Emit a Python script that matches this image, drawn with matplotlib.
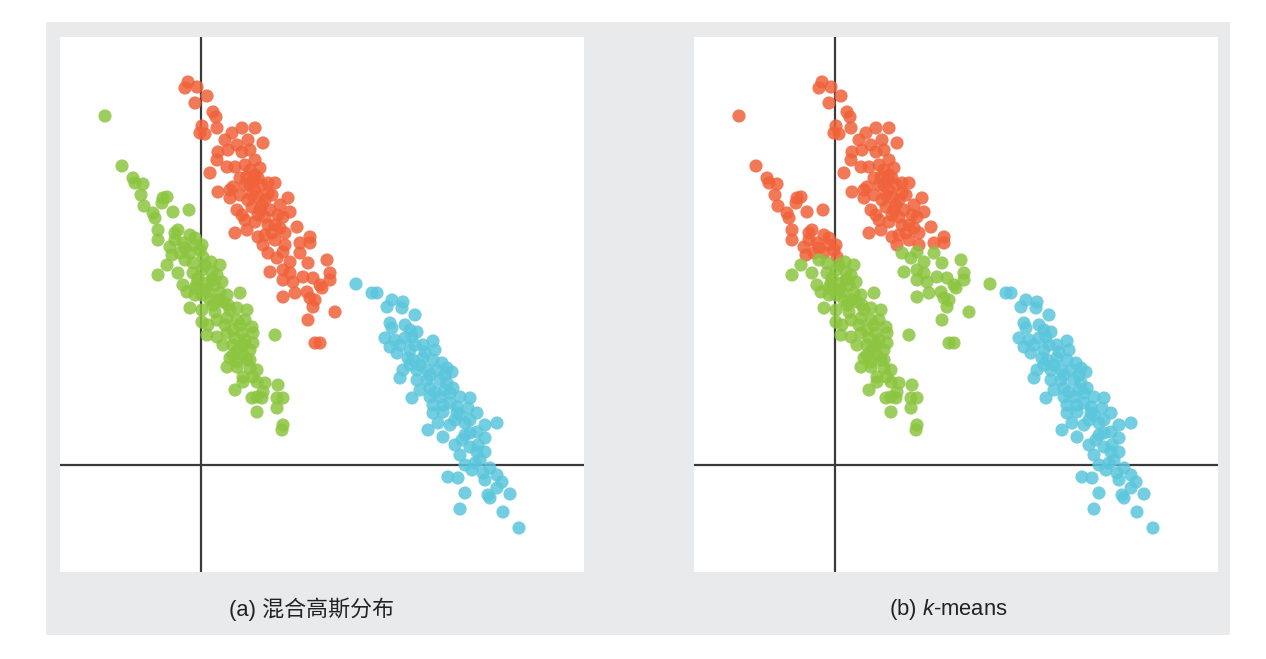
import numpy as np
import matplotlib
matplotlib.use("Agg")
import matplotlib.pyplot as plt
from matplotlib.patches import Rectangle

plt.rcParams['font.family'] = ['Liberation Sans', 'Noto Sans CJK SC']
plt.rcParams['mathtext.fontset'] = 'custom'
plt.rcParams['mathtext.rm'] = 'Liberation Sans'
plt.rcParams['mathtext.it'] = 'Liberation Sans:italic'

# points grouped by (mixture-of-gaussians cluster, k-means cluster)
red_red = [(-1.3, 38.3), (-1.6, 37.7), (-0.4, 37.8), (0.6, 36.9), (-0.6, 36.2), (1.2, 35.3),
           (1.5, 34.8), (0.1, 33.9), (-0.1, 33.2), (0.4, 33.1), (1.6, 33.7), (3.1, 33.2),
           (4.1, 33.7), (5.4, 33.7), (6.2, 32.2), (1.7, 31.3), (1.6, 30.5), (2.7, 31.5),
           (3.6, 32.0), (4.1, 31.3), (4.9, 31.5), (2.6, 29.8), (3.4, 29.8), (0.9, 29.2),
           (5.4, 30.5), (5.9, 29.7), (4.6, 28.8), (5.2, 28.5), (6.7, 28.2), (7.4, 28.2),
           (1.7, 27.3), (2.9, 27.5), (3.2, 27.8), (2.9, 26.7), (3.9, 27.0), (5.4, 27.5),
           (5.7, 26.8), (7.1, 27.0), (8.7, 26.7), (3.6, 25.5), (4.1, 25.0), (5.1, 25.8),
           (5.9, 25.5), (6.4, 24.8), (7.7, 25.0), (8.9, 25.3), (8.2, 24.8), (3.4, 23.2),
           (4.6, 23.5), (5.7, 22.8), (7.1, 23.2), (8.4, 23.2), (9.6, 23.8), (10.9, 22.8),
           (4.9, 29.5), (5.4, 29.0), (6.1, 28.0), (4.9, 28.0), (4.4, 30.0), (6.4, 26.5),
           (5.4, 24.3), (6.7, 24.0), (7.4, 22.5), (6.2, 22.0), (4.7, 32.5), (2.4, 32.5),
           (10.9, 22.2), (9.9, 22.2), (8.4, 22.0),
           (4.4, 28.0), (5.1, 27.0), (6.1, 26.0), (6.9, 25.5), (4.7, 26.5), (5.7, 25.0),
           (7.4, 24.0), (7.9, 23.7), (6.4, 23.0), (4.4, 24.5), (3.9, 28.7), (5.7, 28.7),
           (6.7, 27.2), (7.9, 26.0)]
red_green = [(6.7, 21.2), (8.2, 21.3), (9.9, 21.2), (10.7, 20.2), (6.9, 19.3), (8.2, 19.5),
             (8.9, 19.2), (12.6, 20.5), (12.9, 19.2), (12.9, 18.5), (8.2, 18.5), (9.2, 18.3),
             (11.9, 18.0), (12.1, 17.7), (10.2, 18.8), (11.2, 18.7), (8.2, 16.8), (9.4, 17.2),
             (10.6, 17.3), (10.9, 16.7), (11.4, 16.5), (11.2, 15.8), (13.4, 15.3), (10.7, 14.5),
             (11.4, 12.2), (11.9, 12.2), (7.6, 20.7), (8.9, 20.3)]
green_red = [(-9.6, 34.9), (-7.9, 29.9), (-6.8, 28.7), (-6.6, 28.2), (-5.8, 28.1), (-6.0, 27.0),
             (-5.7, 25.9), (-3.8, 26.7), (-3.4, 26.8), (-3.9, 26.2), (-4.8, 25.2), (-4.6, 24.7),
             (-2.8, 25.3), (-1.2, 25.5), (-4.3, 23.5), (-2.3, 23.5), (-2.6, 23.2), (-1.1, 23.0),
             (-4.3, 22.5), (-3.1, 21.8), (-1.8, 22.2), (0.1, 22.0), (-2.9, 21.0), (-2.1, 21.2),
             (-1.1, 21.2), (0.2, 20.8), (-0.1, 21.5), (-0.6, 22.0),
             (-1.6, 21.7), (-0.6, 22.7), (-2.6, 22.5)]
green_green = [(-3.4, 20.0), (-4.3, 19.0), (-2.3, 19.2), (-0.8, 20.2), (1.0, 20.3), (1.9, 20.0),
               (-0.8, 19.2), (0.1, 19.5), (1.1, 19.3), (1.6, 19.0), (-1.8, 18.0), (-1.4, 17.3),
               (-0.4, 18.2), (0.6, 18.2), (-0.6, 17.0), (0.1, 17.0), (-1.1, 15.7), (1.9, 17.2),
               (2.6, 17.0), (3.9, 17.2), (0.1, 15.5), (1.2, 16.0), (2.2, 16.3), (3.6, 15.7),
               (4.6, 15.5), (0.1, 14.3), (0.7, 14.0), (1.6, 14.5), (2.6, 14.7), (3.6, 14.5),
               (4.4, 14.5), (5.1, 13.8), (5.2, 13.2), (0.6, 13.0), (1.6, 12.8), (2.6, 13.2),
               (3.2, 13.5), (4.1, 13.2), (7.4, 13.0), (2.2, 12.0), (3.2, 12.0), (4.2, 12.0),
               (5.2, 12.2), (3.2, 11.0), (4.2, 11.0), (2.9, 10.7), (3.6, 10.3), (4.6, 10.5),
               (2.6, 9.8), (3.6, 9.8), (4.9, 9.7), (5.6, 9.5), (4.2, 8.8), (5.2, 8.8),
               (4.2, 8.3), (5.6, 8.3), (6.4, 8.2), (7.7, 8.0), (3.4, 7.5), (6.2, 7.3),
               (5.6, 6.8), (5.1, 6.7), (6.1, 6.7), (7.6, 6.7), (8.2, 6.7), (7.6, 5.7),
               (5.6, 5.3), (8.2, 4.0), (8.1, 3.5), (-1.6, 20.5), (0.4, 17.5), (1.4, 18.0),
               (2.9, 15.5), (3.9, 14.0), (4.9, 11.5), (0.9, 16.5),
               (0.4, 20.0), (-0.3, 18.7), (1.1, 18.5), (-0.6, 17.7), (0.7, 17.3), (1.7, 16.5),
               (2.7, 16.0), (1.4, 15.3), (2.4, 14.0), (3.4, 12.7), (4.4, 12.5), (3.7, 11.5),
               (4.9, 10.5), (2.1, 18.3)]
blue_green = [(15.5, 18.1)]
blue_blue = [(17.1, 17.2), (17.6, 17.2), (19.1, 16.5), (20.2, 16.3), (18.6, 15.8), (20.1, 15.7),
             (21.4, 15.0), (18.9, 14.2), (19.1, 13.7), (20.9, 13.5), (21.6, 13.3), (18.4, 12.7),
             (20.4, 12.7), (21.1, 12.8), (23.2, 12.4), (22.2, 12.0), (18.9, 11.8), (19.6, 11.2),
             (20.9, 11.5), (20.7, 10.7), (21.2, 10.5), (22.2, 10.7), (23.2, 10.5), (24.1, 10.2),
             (20.2, 9.5), (19.9, 8.7), (21.6, 9.5), (22.6, 9.5), (23.6, 9.5), (24.6, 9.7),
             (25.1, 9.3), (21.6, 8.5), (22.6, 8.5), (23.9, 8.5), (24.6, 8.2), (25.2, 7.7),
             (21.1, 6.7), (22.9, 6.8), (23.9, 6.8), (24.9, 7.2), (25.9, 6.8), (26.9, 6.7),
             (23.2, 6.0), (24.2, 6.0), (25.6, 5.8), (23.2, 5.2), (24.2, 5.3), (25.6, 5.2),
             (26.7, 5.7), (27.6, 5.2), (22.7, 3.5), (23.7, 4.2), (24.9, 4.0), (26.4, 4.2),
             (28.4, 4.0), (29.6, 4.2), (24.2, 2.8), (25.4, 2.0), (26.9, 3.2), (27.6, 3.3),
             (28.4, 2.7), (26.9, 1.8), (27.6, 1.3), (28.4, 1.3), (26.4, 0.0), (27.4, 0.2),
             (28.9, -0.3), (27.1, -0.5), (28.2, -0.8), (24.7, -1.2), (25.7, -1.3), (29.6, -1.0),
             (28.4, -1.5), (30.1, -1.7), (29.6, -2.3), (26.4, -2.8), (28.7, -3.0), (30.9, -2.9),
             (28.9, -3.3), (25.9, -4.4), (30.2, -4.7), (31.8, -6.3), (21.9, 7.5), (22.9, 7.7),
             (24.4, 7.5), (25.4, 4.5), (26.1, 2.5), (25.9, 1.0), (22.4, 11.3), (19.9, 12.0),
             (23.4, 11.5),
             (20.4, 14.0), (21.4, 12.0), (21.9, 10.0), (22.9, 9.0), (24.4, 9.0), (23.4, 7.3),
             (24.9, 6.2), (25.9, 5.0), (26.9, 4.5), (26.4, 3.0), (27.7, 2.0), (27.9, 0.5),
             (19.4, 12.5), (20.9, 10.0)]

groups = [(red_red, "red", "red"), (red_green, "red", "green"),
          (green_red, "green", "red"), (green_green, "green", "green"),
          (blue_green, "blue", "green"), (blue_blue, "blue", "blue")]

colors = {"red": "#F0623A", "green": "#8CC53F", "blue": "#5BC6DC"}
titles = ["(a) 混合高斯分布", r"(b) $\mathit{k}$-means"]

W, H = 1266, 659
fig = plt.figure(figsize=(W / 100, H / 100), dpi=100, facecolor="white")
fig.patches.append(Rectangle((46 / W, 1 - 635 / H), (1230 - 46) / W, (635 - 22) / H,
                             transform=fig.transFigure, facecolor="#E9EAEC",
                             edgecolor="none", zorder=-5))

lefts = [60, 694]
title_x = [312, 948]
for i, left in enumerate(lefts):
    ax = fig.add_axes([left / W, 1 - 572 / H, 524 / W, 535 / H])
    ax.set_zorder(2)
    ax.set_facecolor("white")
    ax.axhline(0, color="#3a3a3a", lw=1.6, zorder=1)
    ax.axvline(0, color="#3a3a3a", lw=1.6, zorder=1)
    for pts, gmm, km in groups:
        pts = np.array(pts)
        c = colors[gmm] if i == 0 else colors[km]
        ax.scatter(pts[:, 0], pts[:, 1], s=90, color=c, alpha=0.85,
                   edgecolors="none", zorder=2)
    ax.set_xlim(-14.1, 38.3)
    ax.set_ylim(-10.7, 42.8)
    ax.set_xticks([])
    ax.set_yticks([])
    for sp in ax.spines.values():
        sp.set_visible(False)
    fig.text(title_x[i] / W, 1 - 609 / H, titles[i], ha="center", va="center",
             fontsize=15.8, color="#222222", zorder=3)

plt.savefig("out.png", dpi=100, facecolor="white")
